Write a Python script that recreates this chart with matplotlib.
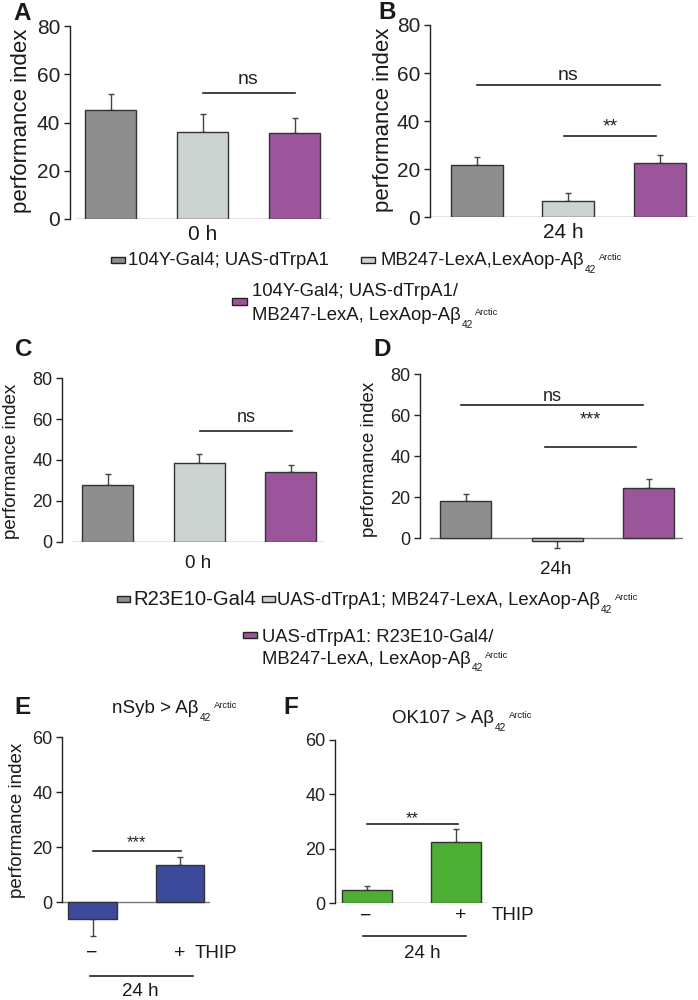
import matplotlib
matplotlib.use("Agg")
import matplotlib.pyplot as plt
from matplotlib.patches import Rectangle

plt.rcParams['font.family'] = ['Liberation Sans', 'DejaVu Sans']

# ---------------- data ----------------
A_vals = [45.2, 36.2, 35.8]
A_err = [6.6, 7.2, 5.9]
B_vals = [21.9, 6.6, 22.7]
B_err = [3.3, 3.6, 3.1]
C_vals = [27.6, 38.7, 34.0]
C_err = [5.6, 4.3, 3.6]
D_vals = [18.2, -1.2, 24.7]
D_err = [3.3, 3.7, 4.2]
E_vals = [-6.1, 13.6]
E_err = [6.1, 2.8]
F_vals = [4.9, 22.6]
F_err = [1.6, 4.7]

A_ticks = [0, 20, 40, 60, 80]
E_ticks = [0, 20, 40, 60]

AB_legend = ["104Y-Gal4; UAS-dTrpA1",
             "MB247-LexA,LexAop-Aβ",
             "104Y-Gal4; UAS-dTrpA1/",
             "MB247-LexA, LexAop-Aβ"]
CD_legend = ["R23E10-Gal4",
             "UAS-dTrpA1; MB247-LexA, LexAop-Aβ",
             "UAS-dTrpA1: R23E10-Gal4/",
             "MB247-LexA, LexAop-Aβ"]
SUB, SUP = "42", "Arctic"

# significance: (x1, x2, yline, label, ytext)
A_sig = [(1, 2, 52.4, "ns", 57.8)]
B_sig = [(0, 2, 55.0, "ns", 58.8), (0.95, 1.96, 33.9, "**", 37.5)]
C_sig = [(1.01, 2.02, 54.4, "ns", 61.0)]
D_sig = [(-0.05, 1.94, 64.9, "ns", 69.4), (0.87, 1.86, 44.7, "***", 57.8)]
E_sig = [(0, 1.01, 18.7, "***", 21.8)]
F_sig = [(0, 1.02, 29.0, "**", 31.0)]

GRAY = "#8d8e8d"
LGRAY = "#cbd3d1"
PURPLE = "#9a559b"
BLUE = "#3b4a9b"
GREEN = "#4cae34"
EDGE = "#333333"
TXT = "#1a1a1a"

W, H = 698, 1000
fig = plt.figure(figsize=(W / 100, H / 100), dpi=100)
renderer = fig.canvas.get_renderer()


def fx(px):
    return px / W


def fy(py):
    return 1 - py / H


def panel(vals, errs, colors, sig, ticks, axis, right, top, zero, ymin, c0, sp, w,
          base0, tick_fs, sig_fs):
    ymax = ticks[-1]
    scale = (zero - top) / ymax
    bottom = zero + (-ymin) * scale
    ax = fig.add_axes([fx(axis), fy(bottom), (right - axis) / W, (bottom - top) / H])
    ax.set_ylim(ymin, ymax)
    ax.set_xlim((axis - c0) / sp, (right - c0) / sp)
    for s in ["top", "right", "bottom"]:
        ax.spines[s].set_visible(False)
    ax.spines["left"].set_bounds(0, ymax)
    ax.spines["left"].set_linewidth(1.0)
    ax.spines["left"].set_color("#222222")
    ax.set_yticks(ticks)
    ax.tick_params(axis="y", direction="out", length=4, width=1, labelsize=tick_fs,
                   colors="#222222", pad=3)
    ax.set_xticks([])
    ax.patch.set_alpha(0)
    ax.axhline(0, xmin=(base0 - axis) / (right - axis), xmax=1, color="#777777",
               lw=1.0, zorder=1)
    pos = list(range(len(vals)))
    ax.bar(pos, vals, width=w / sp, color=colors, edgecolor=EDGE, linewidth=1.0,
           zorder=2)
    for p, v, e in zip(pos, vals, errs):
        yerr = [[0], [e]] if v >= 0 else [[e], [0]]
        ax.errorbar([p], [v], yerr=yerr, fmt="none", ecolor="#444444", elinewidth=1,
                    capsize=2.5, capthick=1, zorder=1.5)
    for x1, x2, yl, lab, yt in sig:
        ax.plot([x1, x2], [yl, yl], color="#222222", lw=1.2, zorder=3)
        ax.text((x1 + x2) / 2, yt, lab, ha="center", va="center", fontsize=sig_fs,
                color="#222222")
    return ax


cols3 = [GRAY, LGRAY, PURPLE]
panel(A_vals, A_err, cols3, A_sig, A_ticks, 70, 330, 26, 219, 0, 110.5, 92, 51, 76, 15, 14)
panel(B_vals, B_err, cols3, B_sig, A_ticks, 430, 695, 25, 217.3, 0, 476.8, 91.6, 52, 427, 15, 14)
panel(C_vals, C_err, cols3, C_sig, A_ticks, 62, 325, 378.3, 541.7, 0, 107.5, 91.5, 51, 72, 13, 13)
panel(D_vals, D_err, cols3, D_sig, A_ticks, 420, 683, 374.3, 538.3, -6, 465.5, 91.5, 51, 430, 13, 13)
panel(E_vals, E_err, [BLUE, BLUE], E_sig, E_ticks, 62, 210, 737.3, 902.3, -13, 92.5, 87.5, 48.5, 62, 13, 12)
panel(F_vals, F_err, [GREEN, GREEN], F_sig, E_ticks, 335, 487, 740, 903.3, 0, 367, 89.3, 50, 335, 13, 12)


def t(x, y, s, fs, **kw):
    kw.setdefault("ha", "center")
    kw.setdefault("va", "center")
    kw.setdefault("color", TXT)
    return fig.text(fx(x), fy(y), s, fontsize=fs, **kw)


def rich(x, yb, main, fs, sub=None, sup=None):
    """main text at baseline yb (pixels from top), followed by small sub/superscript."""
    tm = t(x, yb, main, fs, ha="left", va="baseline")
    if sub is None:
        return
    em = fs * 100 / 72
    bb = tm.get_window_extent(renderer)
    ts = t(bb.x1 + 0.05 * em, yb + 0.42 * em, sub, fs * 0.55, ha="left", va="baseline")
    bb2 = ts.get_window_extent(renderer)
    t(bb2.x1 + 0.15 * em, yb - 0.28 * em, sup, fs * 0.5, ha="left", va="baseline")


# panel letters
for x, y, s in [(22, 14, "A"), (387, 12.5, "B"), (24, 350, "C"), (382, 349, "D"),
                (22.5, 707, "E"), (291, 707, "F")]:
    t(x, y, s, 17.5, fontweight="bold")

# y labels
for x, y, fs in [(21.5, 120.5, 16), (383.5, 120, 16), (12, 461.5, 13.5), (369, 459, 13.5),
                 (17.5, 820, 13.5)]:
    t(x, y, "performance index", fs, rotation=90)

# x labels
t(202.5, 234, "0 h", 15)
t(563, 232, "24 h", 15)
t(198.5, 563, "0 h", 13.5)
t(556, 569, "24h", 13.5)

# E / F extra text
rich(112, 713, "nSyb > Aβ", 13.5, SUB, SUP)
rich(391.7, 723, "OK107 > Aβ", 13.5, SUB, SUP)
t(92, 953, "−", 14)
t(180, 953, "+", 14)
t(195, 953, "THIP", 13.5, ha="left")
t(366, 916, "−", 14)
t(461, 916, "+", 14)
t(491.7, 916, "THIP", 13.5, ha="left")
t(140, 992, "24 h", 13.5)
t(422.5, 954, "24 h", 13.5)
fig.add_artist(plt.Line2D([fx(90), fx(193)], [fy(976), fy(976)], color="#222222", lw=1.2))
fig.add_artist(plt.Line2D([fx(363), fx(466)], [fy(935.7), fy(935.7)], color="#222222", lw=1.2))


def patch(x0, x1, yc, h, color):
    fig.add_artist(Rectangle((fx(x0), fy(yc + h / 2)), (x1 - x0) / W, h / H,
                             transform=fig.transFigure, facecolor=color,
                             edgecolor="#222222", linewidth=1.0))


LFS = 13.3
# legend A/B
patch(111, 125, 259.5, 6, GRAY)
rich(128, 265, AB_legend[0], LFS)
patch(361, 375, 259.5, 6, LGRAY)
rich(380, 265, AB_legend[1], LFS, SUB, SUP)
patch(232, 247, 301, 7, PURPLE)
rich(251.7, 296.5, AB_legend[2], LFS)
rich(251.7, 320, AB_legend[3], LFS, SUB, SUP)

# legend C/D
patch(117, 130, 598.5, 6, GRAY)
rich(133, 605, CD_legend[0], 14.6)
patch(262, 275, 598.5, 6, LGRAY)
rich(276.7, 605, CD_legend[1], LFS, SUB, SUP)
patch(243, 257, 635, 6, PURPLE)
rich(261.7, 642, CD_legend[2], LFS)
rich(261.7, 663.5, CD_legend[3], LFS, SUB, SUP)

fig.savefig("out.png", dpi=100)
